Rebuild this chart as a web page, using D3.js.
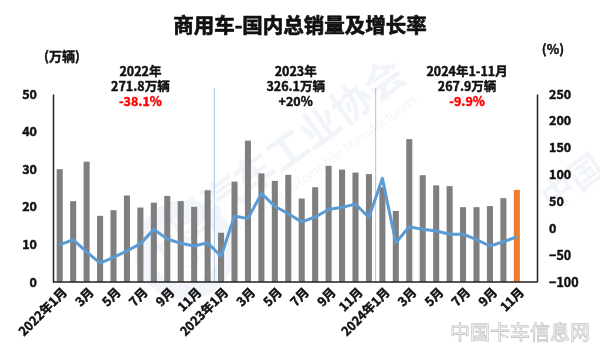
<!DOCTYPE html>
<html>
<head>
<meta charset="utf-8">
<script src="https://cdn.jsdelivr.net/npm/d3@7"></script>
<style>
    body { margin: 0; background: #fff; }
    text { font-family: "Noto Sans CJK SC", "Noto Sans", sans-serif; }
    .bold { font-weight: bold; stroke: currentColor; stroke-width: 0.45px; }
</style>
</head>
<body>
<div id="vis"></div>
<script>
var months = [];
[2022, 2023, 2024].forEach(function(yr) {
    for (var m = 1; m <= 12; m++) months.push(yr + "-" + m);
});

// 万辆
var sales = [30.0, 21.5, 32.0, 17.6, 19.1, 23.0, 19.8, 21.1, 22.9, 21.5, 20.0, 24.4,
             13.1, 26.7, 37.6, 28.9, 26.9, 28.5, 22.2, 25.2, 30.9, 29.9, 29.1, 28.7,
             25.2, 18.9, 38.0, 28.4, 25.7, 25.5, 19.9, 19.9, 20.2, 22.3, 24.5];
// %
var growth = [-31, -21, -44, -65, -54, -42, -29, -2, -20, -28, -33, -27,
              -52, 23, 18, 65, 41, 27, 12, 21, 35, 39, 45, 20,
              93, -27, 3, -2, -5, -11, -11, -21, -33, -25, -16];

var leftTicks = [0, 10, 20, 30, 40, 50];
var rightTicks = [-100, -50, 0, 50, 100, 150, 200, 250];

var notes = [
    {at: 6, shift: 0, lines: ["2022年", "271.8万辆", "-38.1%"], red: true},
    {at: 18, shift: -0.45, lines: ["2023年", "326.1万辆", "+20%"], red: false},
    {at: 30, shift: 0.3, lines: ["2024年1-11月", "267.9万辆", "-9.9%"], red: true}
];

var width = 600, height = 355;
var plotLeft = 53, plotRight = 537, plotTop = 94, plotBottom = 282;

var svg = d3.select("#vis").append("svg")
    .attr("width", width)
    .attr("height", height);

var x = d3.scaleBand().domain(months).range([plotLeft, plotRight]).paddingInner(0.55).paddingOuter(0.275);
var yL = d3.scaleLinear().domain([0, 50]).range([plotBottom, plotTop]);
var yR = d3.scaleLinear().domain([-100, 250]).range([plotBottom, plotTop]);
var cx = function(i) { return x(months[i]) + x.bandwidth() / 2; };
var step = x.step();

// watermark
var wm = svg.append("g").attr("opacity", 0.06);
wm.append("text")
    .attr("transform", "translate(150,268) rotate(-36)")
    .style("font-size", "40px").style("font-weight", "bold").attr("fill", "#1f4e9a")
    .text("中国汽车工业协会");
wm.append("text")
    .attr("transform", "translate(186,270) rotate(-36)")
    .style("font-size", "13px").attr("fill", "#1f4e9a")
    .text("China Association of Automobile Manufacturers");
wm.append("text")
    .attr("transform", "translate(552,212) rotate(-36)")
    .style("font-size", "34px").style("font-weight", "bold").attr("fill", "#1f4e9a")
    .text("中国");
wm.append("circle").attr("cx", 185).attr("cy", 250).attr("r", 42)
    .attr("fill", "none").attr("stroke", "#1f4e9a").attr("stroke-width", 16);

// year separators
[12, 24].forEach(function(i) {
    var sx = plotLeft + step * i;
    svg.append("line")
        .attr("x1", sx).attr("x2", sx).attr("y1", 88).attr("y2", plotBottom)
        .attr("stroke", "#a9c6e4").attr("stroke-width", 1);
});

svg.selectAll("rect.bar")
    .data(sales)
    .enter().append("rect")
    .attr("class", "bar")
    .attr("x", function(d, i) { return x(months[i]); })
    .attr("width", x.bandwidth())
    .attr("y", function(d) { return yL(d); })
    .attr("height", function(d) { return plotBottom - yL(d); })
    .attr("fill", function(d, i) { return i == sales.length - 1 ? "#ed7d31" : "#7f7f7f"; });

var line = d3.line()
    .x(function(d, i) { return cx(i); })
    .y(function(d) { return yR(d); });

svg.append("path")
    .datum(growth)
    .attr("d", line)
    .attr("fill", "none")
    .attr("stroke", "#5b9bd5")
    .attr("stroke-width", 3)
    .attr("stroke-linejoin", "round");

// axes
var axL = svg.append("g").attr("transform", "translate(" + plotLeft + ",0)")
    .call(d3.axisLeft(yL).tickValues(leftTicks).tickSize(0).tickPadding(16));
var axR = svg.append("g").attr("transform", "translate(" + plotRight + ",0)")
    .call(d3.axisRight(yR).tickValues(rightTicks).tickSize(0).tickPadding(12));
[axL, axR].forEach(function(g) {
    g.select(".domain").attr("stroke", "#222").attr("stroke-width", 1.5);
    g.selectAll("text").attr("class", "bold").style("font-size", "12.5px")
        .style("font-family", '"Noto Sans CJK SC", sans-serif').attr("fill", "#111").style("color", "#111");
});
svg.append("line")
    .attr("x1", plotLeft).attr("x2", plotRight).attr("y1", plotBottom).attr("y2", plotBottom)
    .attr("stroke", "#222").attr("stroke-width", 1.5);

// x labels
svg.selectAll("text.xlab")
    .data(sales.map(function(d, i) { return i; }).filter(function(i) { return i % 2 == 0; }))
    .enter().append("text")
    .attr("class", "xlab bold")
    .attr("transform", function(i) { return "translate(" + (cx(i) + 5) + "," + (plotBottom + 8) + ") rotate(-45)"; })
    .attr("text-anchor", "end")
    .attr("dy", "0.35em")
    .style("font-size", "12.5px").attr("fill", "#111").style("color", "#111")
    .text(function(i) {
        var m = i % 12 + 1;
        return m == 1 ? (2022 + Math.floor(i / 12)) + "年1月" : m + "月";
    });

// title & units
svg.append("text").attr("class", "bold").attr("x", 300).attr("y", 26).attr("text-anchor", "middle").attr("dy", "0.35em")
    .style("font-size", "20.5px").attr("fill", "#111").style("color", "#111").style("stroke-width", "0.7px")
    .text("商用车-国内总销量及增长率");
svg.append("text").attr("class", "bold").attr("x", 62).attr("y", 56).attr("text-anchor", "middle").attr("dy", "0.35em")
    .style("font-size", "13px").attr("fill", "#111").style("color", "#111")
    .text("(万辆)");
svg.append("text").attr("class", "bold").attr("x", 553).attr("y", 49).attr("text-anchor", "middle").attr("dy", "0.35em")
    .style("font-size", "13px").attr("fill", "#111").style("color", "#111")
    .text("(%)");

notes.forEach(function(n) {
    n.lines.forEach(function(s, k) {
        var c = k == 2 && n.red ? "#ff0000" : "#111";
        svg.append("text")
            .attr("class", "bold")
            .attr("text-anchor", "middle")
            .style("font-size", "12.5px")
            .attr("x", cx(n.at) + n.shift * step)
            .attr("y", 72 + k * 15)
            .attr("dy", "0.35em")
            .attr("fill", c).style("color", c)
            .text(s);
    });
});

// source logo
svg.append("text").attr("x", 590).attr("y", 340).attr("text-anchor", "end")
    .style("font-size", "20px").attr("fill", "none").attr("stroke", "#c8c8c8").attr("stroke-width", 0.8)
    .text("中国卡车信息网");
</script>
</body>
</html>
